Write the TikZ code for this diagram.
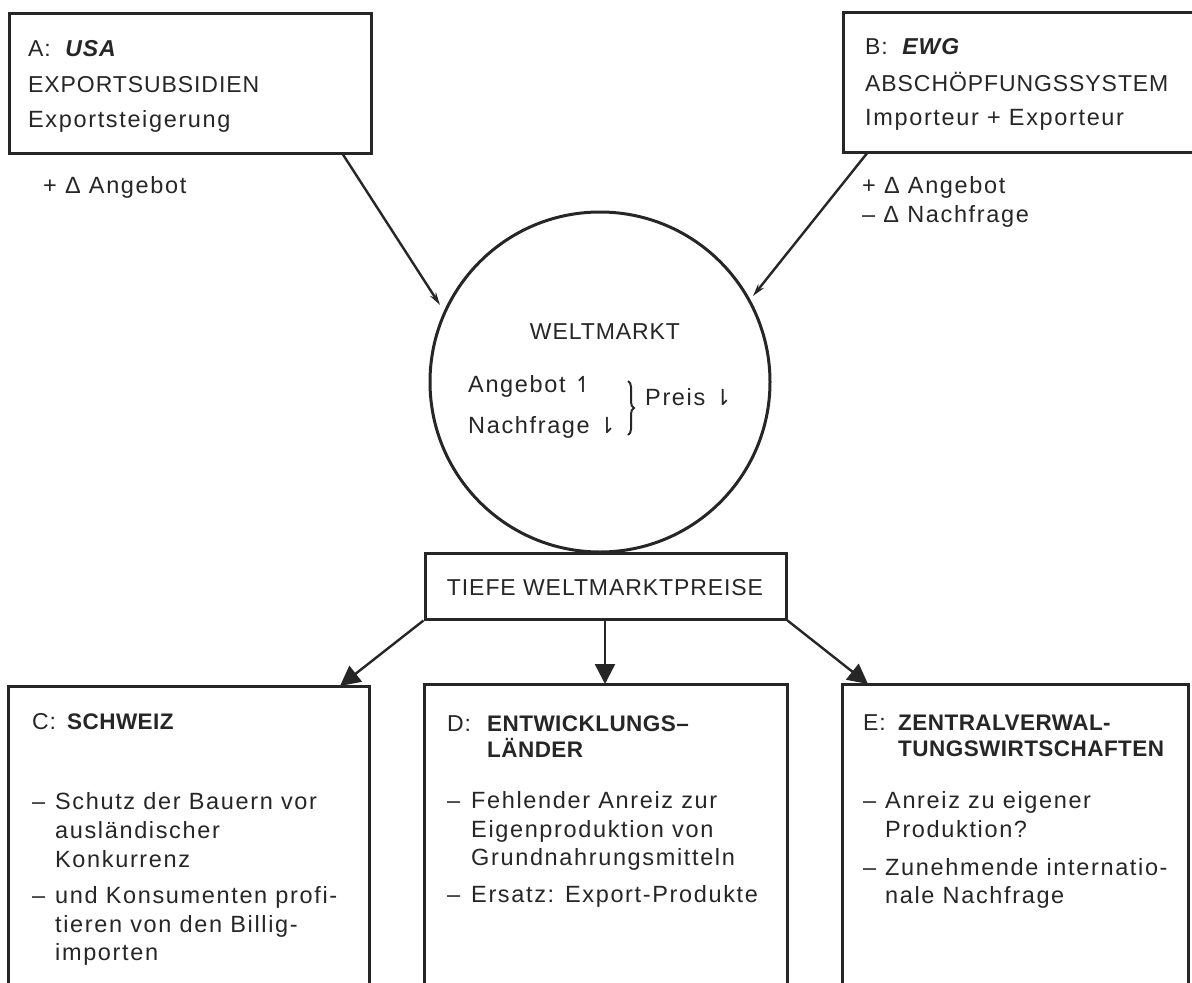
\documentclass[tikz,border=0pt]{standalone}
\usepackage{fontspec}
\setmainfont{Liberation Sans}[LetterSpace=4]
\newfontfamily\bodyf{Liberation Sans}[LetterSpace=7]
\newfontfamily\headf{Liberation Sans}[LetterSpace=2]
\newfontfamily\symf{DejaVu Sans}
\usetikzlibrary{arrows.meta,decorations.pathreplacing,calc}
\definecolor{ink}{HTML}{262626}
\begin{document}
\begin{tikzpicture}[x=1pt,y=-1pt,
  box/.style={draw=ink, line width=3pt, inner sep=0pt, rectangle},
  tx/.style={anchor=base west, inner sep=0pt, text=ink, font=\fontsize{23}{26}\selectfont},
  bx/.style={anchor=base west, inner sep=0pt, text=ink, font=\bodyf\fontsize{23.5}{26}\selectfont},
  hx/.style={anchor=base west, inner sep=0pt, text=ink, font=\headf\bfseries\fontsize{22.5}{26}\selectfont},
  tt/.style={anchor=base west, inner sep=0pt, text=ink, font=\fontsize{23}{26}\selectfont},
  conn/.style={draw=ink, line width=2.4pt},
  bigtip/.style={-{Triangle[length=20pt,width=20pt]}},
  smalltip/.style={-{Stealth[length=13pt,width=7pt]}},
]
\useasboundingbox (0,0) rectangle (1192,983);
\clip (0,0) rectangle (1192,983);
\fill[white] (0,0) rectangle (1192,983);

% boxes
\node[box, minimum width=362pt, minimum height=140pt] (A) at (190,83) {};
\node[box, minimum width=357pt, minimum height=140pt] (B) at (1021.5,82) {};
\node[draw=ink, line width=3pt, circle, minimum size=340pt, inner sep=0pt] (W) at (600,382) {};
\node[box, minimum width=361pt, minimum height=66pt] (T) at (605.5,586) {};
\node[box, minimum width=361pt, minimum height=324pt] (C) at (188.5,848) {};
\node[box, minimum width=363pt, minimum height=326pt] (D) at (605.5,847) {};
\node[box, minimum width=346pt, minimum height=326pt] (E) at (1015,847) {};

% box A text
\node[tt] (a1) at (28,56) {A:\ \ \textbf{\textit{USA}}};
\node[tt] (a2) at (28,92) {EXPORTSUBSIDIEN};
\node[bx] (a3) at (28,127) {Exportsteigerung};
\node[bx] (a4) at (43,193) {+ Δ Angebot};

% box B text
\node[tt] (b1) at (865,54) {B:\ \ \textbf{\textit{EWG}}};
\node[tt] (b2) at (865,91) {ABSCHÖPFUNGSSYSTEM};
\node[bx] (b3) at (865,125) {Importeur + Exporteur};
\node[bx] (b4) at (862,193) {+ Δ Angebot};
\node[bx] (b5) at (862,222) {– Δ Nachfrage};

% circle text
\node[tx, anchor=base] (w1) at (605,339) {WELTMARKT};
\node[bx] (w2) at (468,392) {Angebot {\symf\fontsize{22}{24}\selectfont ↿}};
\node[bx] (w3) at (468,433) {Nachfrage {\symf\fontsize{22}{24}\selectfont ⇂}};
\draw[ink, line width=2pt, decorate, decoration={brace, amplitude=6pt}] (628,381) -- (628,435);
\node[bx] (w4) at (645,405) {Preis {\symf\fontsize{22}{24}\selectfont ⇂}};

% TIEFE box text
\node[tx, anchor=base] (t1) at (605,595) {TIEFE WELTMARKTPREISE};

% box C text
\node[tx] (c0) at (32,729) {C:};
\node[hx] (c0a) at (67,729) {SCHWEIZ};
\node[bx] (c1d) at (32,809) {–};
\node[bx] (c1) at (55,809) {Schutz der Bauern vor};
\node[bx] (c2) at (55,838) {ausländischer};
\node[bx] (c3) at (55,867) {Konkurrenz};
\node[bx] (c4d) at (32,903) {–};
\node[bx] (c4) at (55,903) {und Konsumenten profi-};
\node[bx] (c5) at (55,932) {tieren von den Billig-};
\node[bx] (c6) at (55,960) {importen};

% box D text
\node[tx] (d0) at (447,731) {D:};
\node[hx] (d0a) at (487,731) {ENTWICKLUNGS–};
\node[hx] (d0b) at (487,757) {LÄNDER};
\node[bx] (d1d) at (447,808) {–};
\node[bx] (d1) at (471,808) {Fehlender Anreiz zur};
\node[bx] (d2) at (471,837) {Eigenproduktion von};
\node[bx] (d3) at (471,865) {Grundnahrungsmitteln};
\node[bx] (d4d) at (447,902) {–};
\node[bx] (d4) at (471,902) {Ersatz: Export-Produkte};

% box E text
\node[tx] (e0) at (863,730) {E:};
\node[hx] (e0a) at (898,730) {ZENTRALVERWAL-};
\node[hx] (e0b) at (898,756) {TUNGSWIRTSCHAFTEN};
\node[bx] (e1d) at (863,808) {–};
\node[bx] (e1) at (885,808) {Anreiz zu eigener};
\node[bx] (e2) at (885,837) {Produktion?};
\node[bx] (e3d) at (863,875) {–};
\node[bx] (e3) at (885,875) {Zunehmende internatio-};
\node[bx] (e4) at (885,903) {nale Nachfrage};

% connector end points
\coordinate (pa) at (342,153);
\coordinate (qa) at (440,305);
\coordinate (pb) at (868,152);
\coordinate (qb) at (753,296);
\coordinate (tm) at (605,619);
\coordinate (dm) at (605,684);
\coordinate (ct) at (340,686);
\coordinate (et) at (868,684);

\draw[conn, smalltip] (pa) -- (qa);
\draw[conn, smalltip] (pb) -- (qb);
\draw[conn, bigtip] (T.south west) -- (ct);
\draw[conn, bigtip] (tm) -- (dm);
\draw[conn, bigtip] (T.south east) -- (et);
\end{tikzpicture}
\end{document}
